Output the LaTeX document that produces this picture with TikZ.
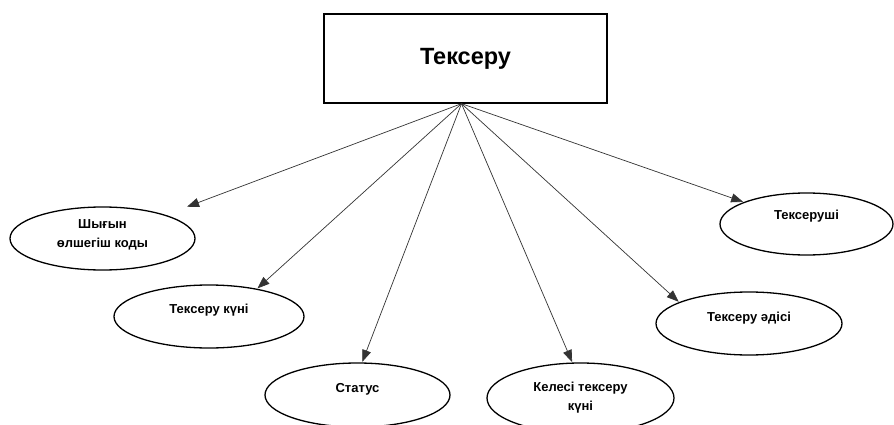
\documentclass[tikz,border=0pt]{standalone}
\usepackage{fontspec}
\setmainfont{Liberation Sans}
\usetikzlibrary{shapes.geometric,arrows.meta,calc}
\begin{document}
\begin{tikzpicture}[x=1pt,y=-1pt,
  ell/.style={draw=black, line width=1.3pt, ellipse, inner sep=0pt},
  txt/.style={font=\bfseries\fontsize{13}{19}\selectfont, align=center},
  conn/.style={draw=black!80, line width=0.7pt, -{Triangle[length=12pt,width=9pt]}, shorten >=0.5pt}]
\clip (0,0) rectangle (894,425);
\fill[white] (0,0) rectangle (894,425);
\node[draw=black, line width=1.3pt, minimum width=283pt, minimum height=89pt, inner sep=0pt,
  font=\bfseries\fontsize{23.5}{28}\selectfont] (box) at (465.5,58.5) {Тексеру};
\coordinate (apex) at ($(box.south)+(-4,0)$);
\node[ell, minimum width=185pt, minimum height=63pt,
  label={[txt, yshift=4pt]center:Шығын\\өлшегіш коды}] (e1) at (102.5,238.5) {};
\node[ell, minimum width=190pt, minimum height=63pt,
  label={[txt, yshift=6pt]center:Тексеру күні}] (e2) at (209,316.5) {};
\node[ell, minimum width=185pt, minimum height=64pt,
  label={[txt, yshift=6pt]center:Статус}] (e3) at (357.5,395) {};
\node[ell, minimum width=187pt, minimum height=70pt,
  label={[txt, yshift=0pt]center:Келесі тексеру\\күні}] (e4) at (580.5,398) {};
\node[ell, minimum width=186pt, minimum height=63pt,
  label={[txt, yshift=5pt]center:Тексеру әдісі}] (e5) at (749,323.5) {};
\node[ell, minimum width=173pt, minimum height=62pt,
  label={[txt, yshift=8pt]center:Тексеруші}] (e6) at (806.5,224) {};
\draw[conn, shorten >=23pt] (apex) -- (e1);
\draw[conn] (apex) -- (e2.30);
\draw[conn] (apex) -- (e3.82);
\draw[conn] (apex) -- (e4.103);
\draw[conn] (apex) -- (e5.163);
\draw[conn] (apex) -- (e6);
\end{tikzpicture}
\end{document}
